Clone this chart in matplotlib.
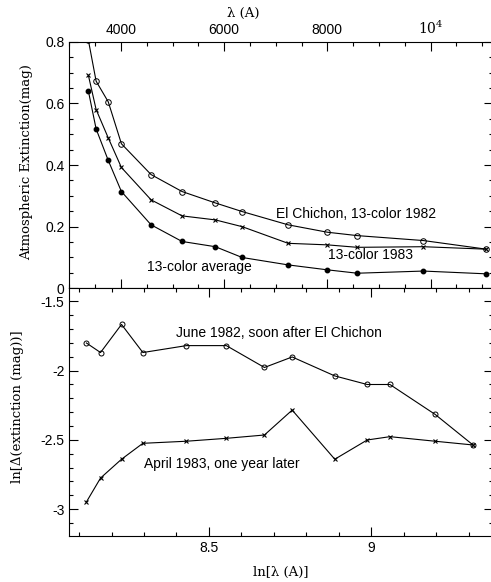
import numpy as np
import matplotlib
matplotlib.use('Agg')
import matplotlib.pyplot as plt
from matplotlib.ticker import MultipleLocator, FuncFormatter, FixedLocator, FixedFormatter

# 13-color photometry wavelengths (A)
wavelength = [3370, 3520, 3755, 4010, 4585, 5185, 5830, 6350, 7240, 8000, 8580, 9860, 11080]

# atmospheric extinction (mag)
ext_1982 = [0.805, 0.672, 0.605, 0.469, 0.369, 0.314, 0.277, 0.249, 0.206, 0.182, 0.171, 0.155, 0.127]
ext_1983 = [0.691, 0.580, 0.488, 0.392, 0.287, 0.235, 0.222, 0.200, 0.146, 0.141, 0.133, 0.135, 0.127]
ext_avg = [0.640, 0.517, 0.415, 0.314, 0.206, 0.152, 0.135, 0.100, 0.076, 0.060, 0.049, 0.056, 0.047]

# ln of extinction excess
dln_1982 = [-1.800, -1.869, -1.666, -1.869, -1.819, -1.819, -1.977, -1.901, -2.038, -2.100, -2.100, -2.316, -2.537]
dln_1983 = [-2.949, -2.776, -2.640, -2.525, -2.510, -2.489, -2.465, -2.285, -2.640, -2.501, -2.477, -2.510, -2.537]

top_ticks = [4000, 6000, 8000, 10000]
top_ticklabels = ['4000', '6000', '8000', r'$10^4$']

plt.rcParams['font.family'] = ['Liberation Sans', 'DejaVu Sans']
plt.rcParams['font.size'] = 10
plt.rcParams['axes.unicode_minus'] = False
plt.rcParams['axes.linewidth'] = 0.8
plt.rcParams['mathtext.fontset'] = 'dejavuserif'

lnlam = np.log(wavelength)

fig = plt.figure(figsize=(4.91, 5.82), dpi=100)
ax1 = fig.add_axes([0.1411, 0.5046, 0.8620, 0.4237])
ax2 = fig.add_axes([0.1411, 0.0790, 0.8620, 0.4256])

lw = 0.8
ax1.plot(wavelength, ext_1982, '-', color='black', lw=lw, marker='o', mfc='none', mec='black', ms=4, mew=0.7)
ax1.plot(wavelength, ext_1983, '-', color='black', lw=lw, marker='x', ms=3, mew=0.8)
ax1.plot(wavelength, ext_avg, '-', color='black', lw=lw, marker='o', mfc='black', mec='black', ms=3.2)

ax1.set_xlim(3000, 11200)
ax1.set_ylim(0, 0.8)
ax1.xaxis.set_major_locator(FixedLocator(top_ticks))
ax1.xaxis.set_major_formatter(FixedFormatter(top_ticklabels))
ax1.xaxis.set_minor_locator(MultipleLocator(500))
ax1.yaxis.set_major_locator(MultipleLocator(0.2))
ax1.yaxis.set_minor_locator(MultipleLocator(0.05))
ax1.yaxis.set_major_formatter(FuncFormatter(lambda v, p: '%g' % round(v, 2)))
ax1.tick_params(which='both', direction='in', top=True, bottom=True, left=True, right=True,
                labeltop=True, labelbottom=False, width=0.8)
ax1.tick_params(which='major', length=6.5)
ax1.tick_params(which='minor', length=3.2)

ax1.text(7012, 0.242, 'El Chichon, 13-color 1982', ha='left', va='center', fontsize=10)
ax1.text(8022, 0.108, '13-color 1983', ha='left', va='center', fontsize=10)
ax1.text(4505, 0.070, '13-color average', ha='left', va='center', fontsize=10)

ax2.plot(lnlam, dln_1982, '-', color='black', lw=lw, marker='o', mfc='none', mec='black', ms=3.6, mew=0.7)
ax2.plot(lnlam, dln_1983, '-', color='black', lw=lw, marker='x', ms=3, mew=0.8)

ax2.set_xlim(8.07, 9.373)
ax2.set_ylim(-3.195, -1.405)
ax2.xaxis.set_major_locator(MultipleLocator(0.5))
ax2.xaxis.set_minor_locator(MultipleLocator(0.1))
ax2.xaxis.set_major_formatter(FuncFormatter(lambda v, p: '%g' % round(v, 2)))
ax2.yaxis.set_major_locator(MultipleLocator(0.5))
ax2.yaxis.set_minor_locator(MultipleLocator(0.1))
ax2.yaxis.set_major_formatter(FuncFormatter(lambda v, p: '%g' % round(v, 2)))
ax2.tick_params(which='both', direction='in', top=True, bottom=True, left=True, right=True, width=0.8)
ax2.tick_params(which='major', length=6.5)
ax2.tick_params(which='minor', length=3.2)

ax2.text(8.398, -1.725, 'June 1982, soon after El Chichon', ha='left', va='center', fontsize=10)
ax2.text(8.300, -2.673, 'April 1983, one year later', ha='left', va='center', fontsize=10)

serif = dict(family='DejaVu Serif', fontsize=9.5)
fig.text(243 / 491, 1 - 13 / 582, 'λ (A)', ha='center', va='center', **serif)
fig.text(281 / 491, 1 - 572 / 582, 'ln[λ (A)]', ha='center', va='center', **serif)
fig.text(27 / 491, 1 - 162 / 582, 'Atmospheric Extinction(mag)', ha='center', va='center', rotation=90, **serif)
fig.text(18 / 491, 1 - 407 / 582, 'ln[Δ(extinction (mag))]', ha='center', va='center', rotation=90, **serif)

fig.savefig('out.png', dpi=100)
